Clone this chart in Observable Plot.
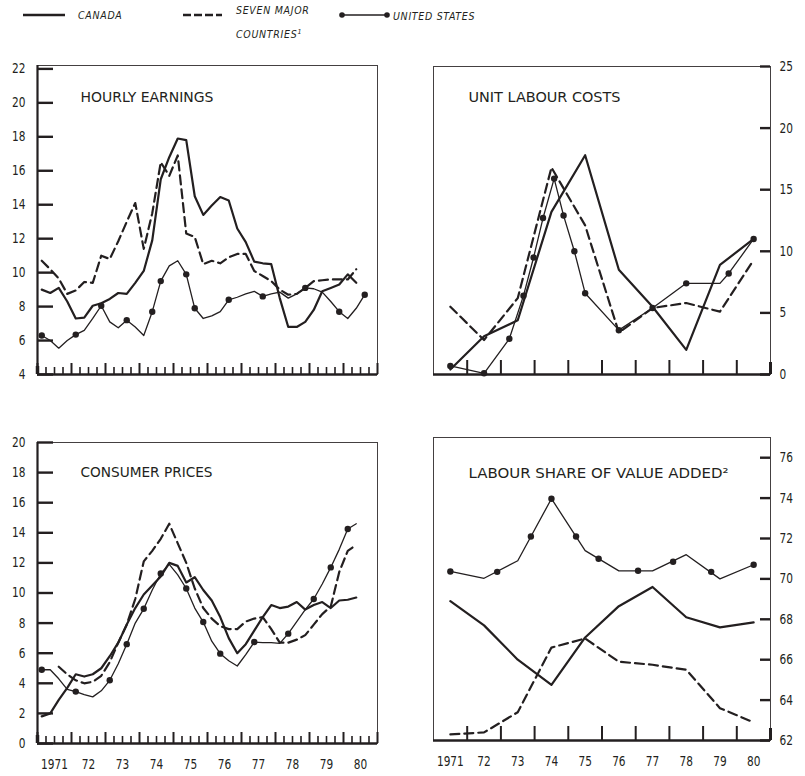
<!DOCTYPE html>
<html><head><meta charset="utf-8">
<script src="https://cdn.jsdelivr.net/npm/d3@7"></script>
<script src="https://cdn.jsdelivr.net/npm/@observablehq/plot@0.6"></script>
<style>
body{margin:0;background:#fff;}
#wrap{position:relative;width:805px;height:776px;overflow:hidden;background:#fff;color:#231f20;
 font-family:"Liberation Sans Narrow","DejaVu Sans Condensed","Arial Narrow","DejaVu Sans",sans-serif;}
.panel{position:absolute;}
.leg{position:absolute;font-style:italic;font-size:10.5px;letter-spacing:0.7px;white-space:nowrap;line-height:12px;}
.sw{position:absolute;}
</style></head><body><div id="wrap"></div>
<script>
const FONT = `"Liberation Sans Narrow","DejaVu Sans Condensed","Arial Narrow","DejaVu Sans",sans-serif`;
const INK = "#231f20";

// ---------- categories ----------
const years = [1971,1972,1973,1974,1975,1976,1977,1978,1979,1980];
const yearLabels = ["1971","72","73","74","75","76","77","78","79","80"];
const quarters = years.flatMap(y => ["Q1","Q2","Q3","Q4"].map(q => `${y} ${q}`));
const seriesNames = ["CANADA","SEVEN MAJOR COUNTRIES¹","UNITED STATES"];

// ---------- Hourly earnings (quarterly, % change) ----------
const heCanada = [9.0,8.8,9.1,8.3, 7.3,7.35,8.05,8.2, 8.45,8.8,8.75,9.4, 10.1,11.9,15.5,16.8,
  17.9,17.8,14.5,13.4, 13.95,14.45,14.25,12.6, 11.8,10.65,10.55,10.5, 8.5,6.8,6.8,7.1,
  7.8,8.9,9.1,9.3, 9.9,9.4];
const heSeven = [10.7,10.2,9.65,8.75, 8.95,9.45,9.4,11.0, 10.8,11.85,13.0,14.1, 11.4,13.5,16.5,15.7,
  16.9,12.3,12.1,10.5, 10.7,10.55,10.9,11.1, 11.1,10.1,9.8,9.5, 9.0,8.7,8.75,9.1,
  9.5,9.55,9.6,9.6, 9.6,10.2];
const heUS = [6.3,6.0,5.55,6.0, 6.35,6.6,7.3,8.05, 7.1,6.75,7.2,6.8, 6.3,7.7,9.5,10.4,
  10.7,9.9,7.9,7.3, 7.45,7.7,8.4,8.55, 8.75,8.9,8.6,8.75, 8.85,8.5,8.75,9.1,
  9.05,8.85,8.3,7.7, 7.3,7.9,8.7];
const heUSMarked = [0,4,7,10,13,14,17,18,22,26,31,35,38];
const heTicks = [4,6,8,10,12,14,16,18,20,22];

// ---------- Consumer prices (quarterly, % change) ----------
const cpCanada = [1.8,2.0,2.9,3.7, 4.6,4.45,4.6,5.0, 5.8,6.7,7.9,9.0, 9.9,10.5,11.1,12.0,
  11.8,10.7,11.05,10.2, 9.5,8.4,7.0,6.0, 6.6,7.5,8.4,9.2, 9.0,9.1,9.4,8.9,
  9.2,9.4,9.0,9.5, 9.55,9.7];
const cpSeven = [null,null,5.1,4.6, 4.2,4.0,4.1,4.5, 5.4,6.7,7.9,9.6, 12.1,12.8,13.6,14.6,
  13.3,12.0,10.3,9.0, 8.3,7.8,7.6,7.6, 8.1,8.3,8.4,7.6, 6.7,6.7,6.9,7.2,
  7.9,8.6,9.1,11.4, 12.8,13.2];
const cpUS = [4.9,4.9,4.3,3.6, 3.45,3.25,3.1,3.5, 4.2,5.3,6.6,8.0, 8.95,10.2,11.3,11.9,
  11.2,10.3,9.0,8.07, 6.8,5.97,5.5,5.15, 5.9,6.74,6.7,6.7, 6.65,7.3,8.1,8.9,
  9.6,10.6,11.7,12.9, 14.25,14.6];
const cpUSMarked = [0,4,8,10,12,14,17,19,21,25,29,32,34,36];
const cpTicks = [0,2,4,6,8,10,12,14,16,18,20];

// ---------- Unit labour costs (annual, % change) ----------
const ulcCanada = [0.4,3.1,4.4,13.2,17.8,8.5,5.5,2.0,8.9,11.0];
const ulcSeven  = [5.5,2.8,6.2,16.8,12.1,3.4,5.4,5.8,5.1,9.3];
const ulcUSDate = [1971.5,1972.5,1973.25,1973.67,1973.97,1974.25,1974.58,1974.86,1975.18,1975.5,
  1976.5,1977.5,1978.5,1979.5,1979.76,1980.5];
const ulcUS = [0.7,0.1,2.9,6.4,9.5,12.7,15.9,12.9,10.0,6.6,3.6,5.4,7.4,7.4,8.2,11.0];
const ulcUSMarked = [0,1,2,3,4,5,6,7,8,9,10,11,12,14,15];
const ulcTicks = [0,5,10,15,20,25];

// ---------- Labour share of value added (annual, %) ----------
const lsCanada = [68.9,67.7,66.0,64.75,67.1,68.65,69.6,68.1,67.6,67.85];
const lsSeven  = [62.3,62.4,63.4,66.6,67.05,65.9,65.75,65.5,63.6,62.9];
const lsUS     = [70.37,70.03,70.9,73.97,71.4,70.4,70.4,71.2,70.0,70.7];
const lsUSMarkDate = [1971.5,1972.89,1973.89,1974.5,1975.23,1975.9,1977.07,1978.11,1979.24,1980.5];
const lsUSMarkVal  = [70.37,70.35,72.1,73.97,72.1,71.0,70.4,70.85,70.35,70.7];
const lsTicks = [62,64,66,68,70,72,74,76];

// ---------- helpers ----------
const qPos = s => { const [y, q] = s.split(" "); return +y + (+q.slice(1) - 0.5) / 4; };
const quarterly = vals => vals.map((v, i) => ({x: qPos(quarters[i]), y: v}));
const annual = vals => vals.map((v, i) => ({x: years[i] + 0.5, y: v}));
const paired = (xs, vs) => vs.map((v, i) => ({x: xs[i], y: v}));

const wrap = document.getElementById("wrap");

function panel(cfg) {
  const [bl, bt, bw, bh] = cfg.box;
  const [fl, ft, fr, fb] = cfg.frame;
  const fw = fr - fl, fh = fb - ft;
  const left = cfg.side === "left";
  const yMin = cfg.yDomain[0];
  const majors = [...years, 1981];
  const minors = cfg.minor ? years.flatMap(y => [y + 0.25, y + 0.5, y + 0.75]) : [];
  const tl = left ? 16 : 10;
  const marks = [
    Plot.frame({stroke: INK, strokeWidth: 1, strokeOpacity: 0.85}),
    left ? Plot.ruleX([1971], {stroke: INK, strokeWidth: 2.2})
         : Plot.ruleX([1981], {stroke: INK, strokeWidth: 3, insetTop: fh - 12}),
    Plot.ruleY([yMin], {stroke: INK, strokeWidth: 2.6}),
    Plot.ruleY(cfg.yTicks, left ? {stroke: INK, strokeWidth: 2.4, insetRight: fw - tl}
                               : {stroke: INK, strokeWidth: 2.4, insetLeft: fw - tl}),
    Plot.ruleX(left ? majors : years.slice(1), {stroke: INK, strokeWidth: 2, insetTop: fh - (left ? 11 : 14)}),
    Plot.ruleX(minors, {stroke: INK, strokeWidth: 1.6, insetTop: fh - 7}),
    left ? Plot.ruleX([1971], {stroke: INK, strokeWidth: 3.5, insetTop: fh - 8}) : null,
    Plot.axisY({anchor: cfg.side, ticks: cfg.yTicks, tickSize: 0, tickPadding: left ? 12 : 9,
      label: null, fontSize: 14, fill: INK}),
    cfg.xLabels ? Plot.axisX({anchor: "bottom", ticks: years.map(y => y + 0.5), tickSize: 0, tickPadding: 16,
      tickFormat: d => yearLabels[years.indexOf(Math.floor(d))], label: null, fontSize: 14, fill: INK}) : null,
    Plot.text([cfg.title], {frameAnchor: "top-left", dx: cfg.tdx, dy: cfg.tdy, textAnchor: "start",
      lineAnchor: "middle", fontSize: 14, fill: INK}),
    ...cfg.marks
  ];
  const svg = Plot.plot({
    width: bw, height: bh,
    marginLeft: fl - bl, marginRight: bl + bw - fr, marginTop: ft - bt, marginBottom: bt + bh - fb,
    x: {domain: [1971, 1981], axis: null},
    y: {domain: cfg.yDomain, axis: null},
    style: {fontFamily: FONT, fontSize: "14px", color: INK, background: "transparent", overflow: "visible"},
    marks
  });
  svg.querySelectorAll("text").forEach(t => {
    if (t.textContent === cfg.title) {
      t.setAttribute("textLength", cfg.tw);
      t.setAttribute("lengthAdjust", "spacingAndGlyphs");
    } else {
      // condense numeric tick labels horizontally, like the original's narrow typeface
      const tr = t.getAttribute("transform");
      if (tr) t.setAttribute("transform", tr + " scale(0.84,1)");
      else {
        const x = +(t.getAttribute("x") || 0), y = +(t.getAttribute("y") || 0);
        t.setAttribute("x", 0); t.setAttribute("y", 0);
        t.setAttribute("transform", `translate(${x},${y}) scale(0.84,1)`);
      }
    }
  });
  const div = document.createElement("div");
  div.className = "panel";
  div.style.left = bl + "px"; div.style.top = bt + "px"; div.style.width = bw + "px"; div.style.height = bh + "px";
  div.appendChild(svg);
  wrap.appendChild(div);
}

const canadaStyle = {x: "x", y: "y", stroke: INK, strokeWidth: 2.2, strokeLinejoin: "round"};
const sevenStyle  = {x: "x", y: "y", stroke: INK, strokeWidth: 2.2, strokeDasharray: "9,5"};
const usStyle     = {x: "x", y: "y", stroke: INK, strokeWidth: 1.3};
const dotStyle    = {x: "x", y: "y", r: 3.2, fill: INK, stroke: "none"};

// Hourly earnings
{
  const us = quarterly(heUS);
  panel({box: [0, 40, 402, 360], frame: [37, 65, 377, 374], side: "left", minor: true,
    yDomain: [4, 22.2], yTicks: heTicks, title: "HOURLY EARNINGS", tdx: 43, tdy: 32, tw: 133,
    marks: [
      Plot.line(quarterly(heSeven), sevenStyle),
      Plot.line(quarterly(heCanada), canadaStyle),
      Plot.line(us, usStyle),
      Plot.dot(heUSMarked.map(i => us[i]), dotStyle)
    ]});
}
// Unit labour costs
{
  const us = paired(ulcUSDate, ulcUS);
  panel({box: [402, 40, 403, 360], frame: [433, 66, 770, 374], side: "right", minor: false,
    yDomain: [0, 25], yTicks: ulcTicks, title: "UNIT LABOUR COSTS", tdx: 35, tdy: 31, tw: 152,
    marks: [
      Plot.line(annual(ulcSeven), sevenStyle),
      Plot.line(annual(ulcCanada), canadaStyle),
      Plot.line(us, usStyle),
      Plot.dot(ulcUSMarked.map(i => us[i]), dotStyle)
    ]});
}
// Consumer prices
{
  const us = quarterly(cpUS);
  panel({box: [0, 400, 402, 376], frame: [37, 442, 377, 743], side: "left", minor: true, xLabels: true,
    yDomain: [0, 20], yTicks: cpTicks, title: "CONSUMER PRICES", tdx: 43, tdy: 30, tw: 132,
    marks: [
      Plot.line(quarterly(cpSeven), sevenStyle),
      Plot.line(quarterly(cpCanada), canadaStyle),
      Plot.line(us, usStyle),
      Plot.dot(cpUSMarked.map(i => us[i]), dotStyle)
    ]});
}
// Labour share
{
  panel({box: [402, 400, 403, 376], frame: [433, 437, 770, 740], side: "right", minor: false, xLabels: true,
    yDomain: [62, 77], yTicks: lsTicks, title: "LABOUR SHARE OF VALUE ADDED²", tdx: 35, tdy: 36, tw: 260,
    marks: [
      Plot.line(annual(lsSeven), sevenStyle),
      Plot.line(annual(lsCanada), canadaStyle),
      Plot.line(annual(lsUS), usStyle),
      Plot.dot(paired(lsUSMarkDate, lsUSMarkVal), dotStyle)
    ]});
}

// ---------- Legend ----------
const legend = [
  {name: seriesNames[0], sw: [23, 65], kind: "solid", tx: 78, ty: 9},
  {name: seriesNames[1], sw: [183, 222], kind: "dash", tx: 236, ty: 4},
  {name: seriesNames[2], sw: [342, 387], kind: "dots", tx: 393, ty: 10}
];
legend.forEach(l => {
  const w = l.sw[1] - l.sw[0] + 8;
  const s = document.createElementNS("http://www.w3.org/2000/svg", "svg");
  s.setAttribute("width", w); s.setAttribute("height", 10);
  s.setAttribute("class", "sw");
  s.style.left = (l.sw[0] - 4) + "px"; s.style.top = "10px";
  const ln = document.createElementNS("http://www.w3.org/2000/svg", "line");
  ln.setAttribute("x1", 4); ln.setAttribute("x2", w - 4); ln.setAttribute("y1", 5); ln.setAttribute("y2", 5);
  ln.setAttribute("stroke", INK);
  ln.setAttribute("stroke-width", l.kind === "dots" ? 1.3 : 2.6);
  if (l.kind === "dash") ln.setAttribute("stroke-dasharray", "8,3");
  s.appendChild(ln);
  if (l.kind === "dots") {
    [4, w - 4].forEach(cx => {
      const c = document.createElementNS("http://www.w3.org/2000/svg", "circle");
      c.setAttribute("cx", cx); c.setAttribute("cy", 5); c.setAttribute("r", 2.8); c.setAttribute("fill", INK);
      s.appendChild(c);
    });
  }
  wrap.appendChild(s);
  const t = document.createElement("div");
  t.className = "leg";
  t.style.left = l.tx + "px"; t.style.top = l.ty + "px";
  if (l.kind === "dash") {
    t.innerHTML = "SEVEN MAJOR<br><span style='position:relative;top:9px'>COUNTRIES<sup style='font-size:7px'>1</sup></span>";
  } else t.textContent = l.name;
  wrap.appendChild(t);
});
</script>
</body></html>
